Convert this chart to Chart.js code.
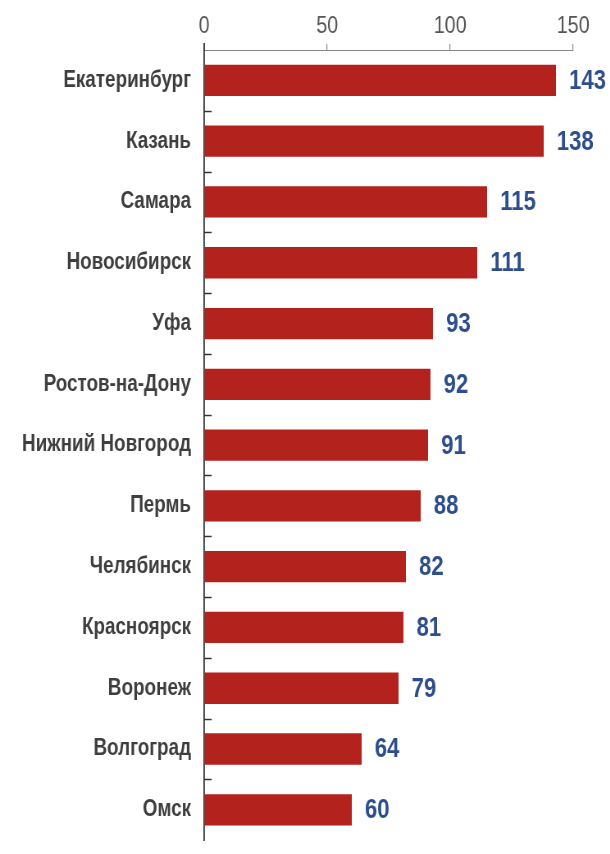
<!DOCTYPE html>
<html>
<head>
<meta charset="utf-8">
<title>Города</title>
<script src="https://cdn.jsdelivr.net/npm/chart.js@4.4.1/dist/chart.umd.min.js"></script>
<style>
    html, body { margin: 0; padding: 0; background: #fff; overflow: hidden; }
    /* chart is laid out wide and squeezed horizontally to get narrow lettering */
    #wrap { position: absolute; left: 0; top: 0; transform: scaleX(0.82); transform-origin: 0 0; }
</style>
</head>
<body>
<div id="wrap"><canvas id="cityChart" width="744" height="862"></canvas></div>
<script>
const cities = [
    'Екатеринбург', 'Казань', 'Самара', 'Новосибирск', 'Уфа',
    'Ростов-на-Дону', 'Нижний Новгород', 'Пермь', 'Челябинск',
    'Красноярск', 'Воронеж', 'Волгоград', 'Омск'
];
const counts = [143, 138, 115, 111, 93, 92, 91, 88, 82, 81, 79, 64, 60];
const xTicks = [0, 50, 100, 150];

const sans = "'Liberation Sans', Arial, sans-serif";

// short tick marks inside the plot between categories + value labels at bar ends
const barExtras = {
    id: 'barExtras',
    afterDatasetsDraw(chart) {
        const ctx = chart.ctx;
        const x = chart.scales.x;
        const y = chart.scales.y;
        const area = chart.chartArea;

        ctx.save();
        ctx.strokeStyle = '#333';
        ctx.lineWidth = 1.5;
        for (let i = 1; i < cities.length; i++) {
            const py = Math.round((y.getPixelForValue(i - 1) + y.getPixelForValue(i)) / 2) + 0.5;
            ctx.beginPath();
            ctx.moveTo(area.left, py);
            ctx.lineTo(area.left + 9, py);
            ctx.stroke();
        }

        // the value axis pokes a little above the top axis line
        ctx.lineWidth = 1.8;
        ctx.beginPath();
        ctx.moveTo(x.getPixelForValue(0), area.top - 7);
        ctx.lineTo(x.getPixelForValue(0), area.top);
        ctx.stroke();

        ctx.fillStyle = '#2d4e8c';
        ctx.font = 'bold 27px ' + sans;
        ctx.textAlign = 'left';
        ctx.textBaseline = 'middle';
        chart.getDatasetMeta(0).data.forEach((bar, i) => {
            ctx.fillText(String(counts[i]), bar.x + 16, bar.y + 1);
        });
        ctx.restore();
    }
};

new Chart(document.getElementById('cityChart'), {
    type: 'bar',
    data: {
        labels: cities,
        datasets: [{
            data: counts,
            backgroundColor: '#b3221c',
            borderWidth: 0,
            barPercentage: 0.515,
            categoryPercentage: 1
        }]
    },
    options: {
        indexAxis: 'y',
        responsive: false,
        animation: false,
        layout: { padding: { top: 0, right: 45, bottom: 2, left: 0 } },
        plugins: {
            legend: { display: false },
            tooltip: { enabled: false }
        },
        scales: {
            x: {
                position: 'top',
                min: 0,
                max: 150,
                afterBuildTicks: (scale) => {
                    scale.ticks = xTicks.map(v => ({ value: v }));
                },
                afterFit: (scale) => { scale.height = 50; },
                grid: {
                    drawOnChartArea: false,
                    drawTicks: true,
                    tickLength: 6,
                    lineWidth: 1.2,
                    color: '#888'
                },
                border: { color: '#888', width: 1 },
                ticks: {
                    padding: 3,
                    color: '#555',
                    font: { family: sans, size: 24 }
                }
            },
            y: {
                afterFit: (scale) => { scale.width = 249; },
                grid: { display: false },
                border: { display: true, color: '#333', width: 1.8 },
                ticks: {
                    padding: 8,
                    color: '#3e3e3e',
                    font: { family: sans, size: 23, weight: 'bold' }
                }
            }
        }
    },
    plugins: [barExtras]
});
</script>
</body>
</html>
